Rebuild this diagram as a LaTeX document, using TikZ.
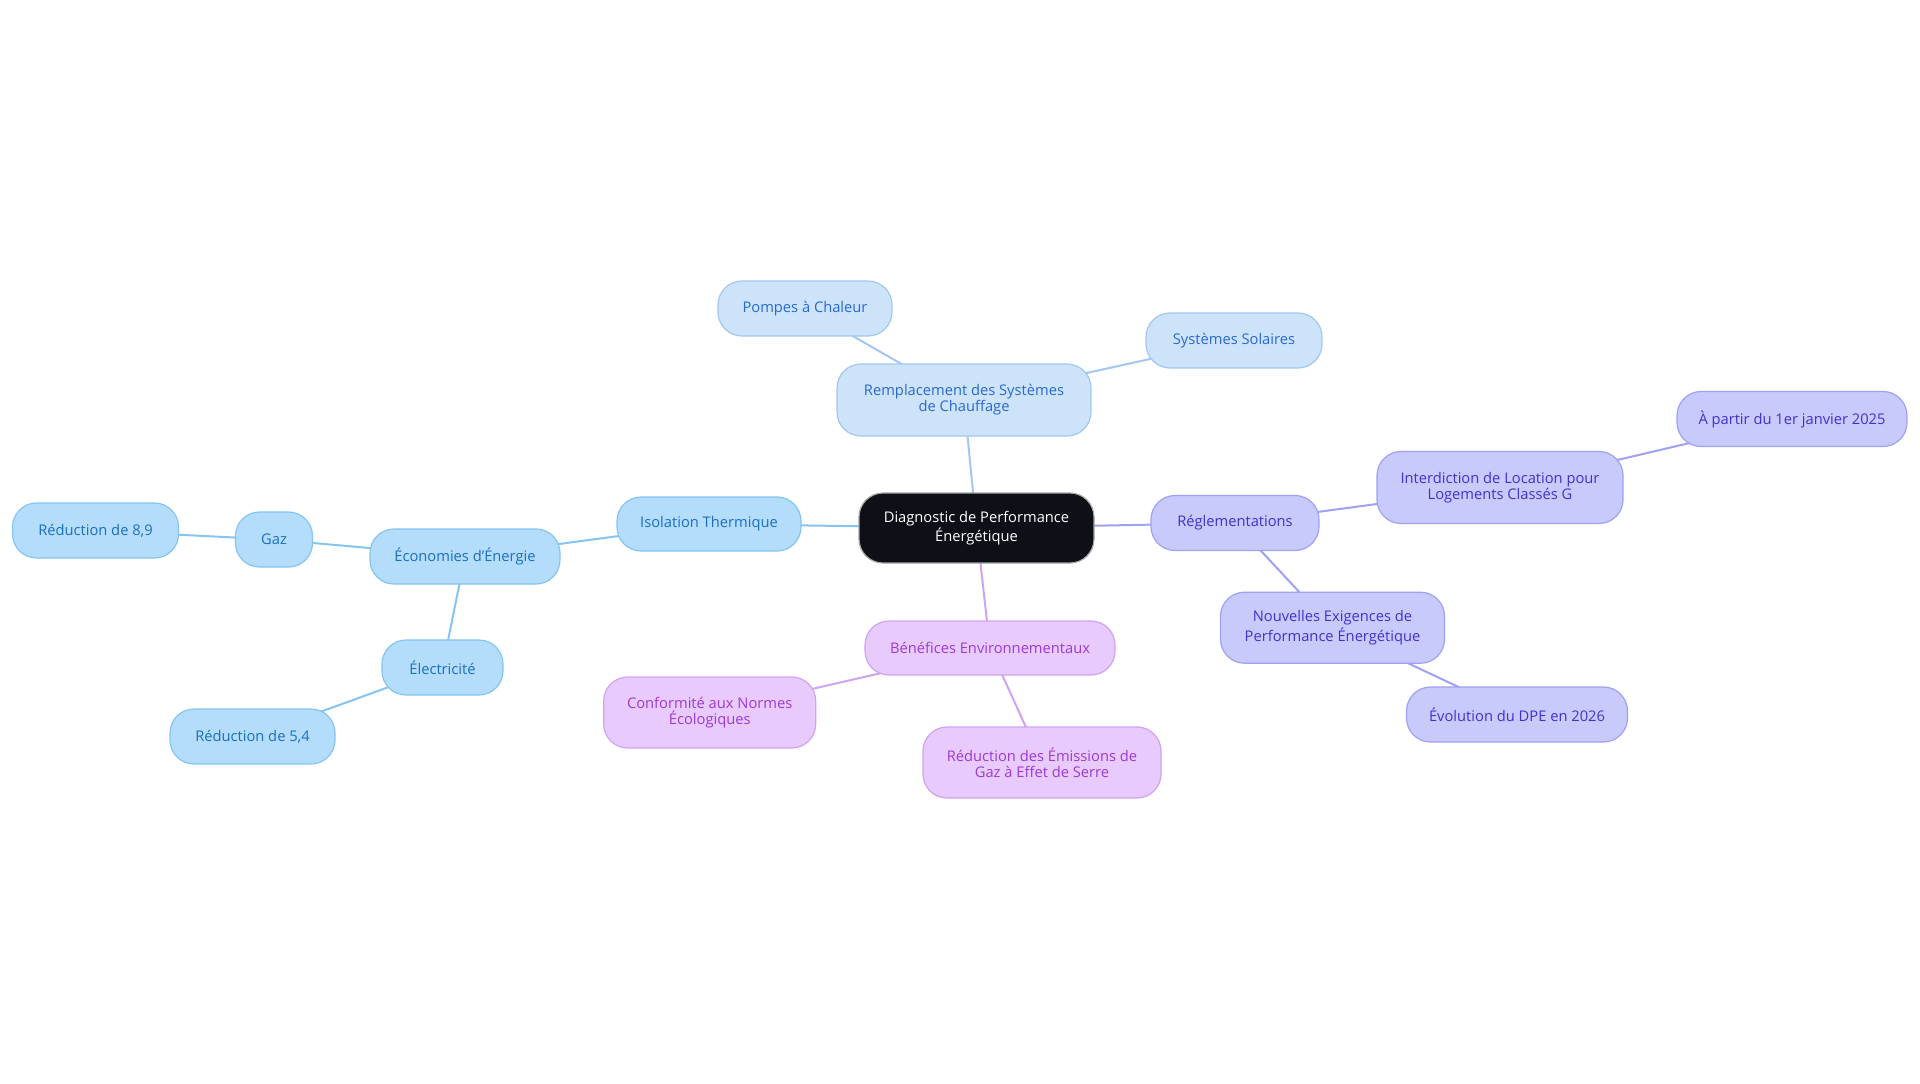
\documentclass[tikz,border=0pt]{standalone}
\usepackage{fontspec}
\setmainfont{Open Sans}
\usetikzlibrary{backgrounds}
\definecolor{cfill}{HTML}{0D1117}
\definecolor{bfill}{HTML}{B3DDFB}
\definecolor{bline}{HTML}{86C4F1}
\definecolor{btext}{HTML}{1A6FC2}
\definecolor{lfill}{HTML}{CDE3FA}
\definecolor{lline}{HTML}{A2C7F2}
\definecolor{ltext}{HTML}{2A69D0}
\definecolor{pfill}{HTML}{E8CBFC}
\definecolor{pline}{HTML}{CFA3F4}
\definecolor{ptext}{HTML}{9B3AD8}
\definecolor{ifill}{HTML}{C9CAFC}
\definecolor{iline}{HTML}{9FA1F3}
\definecolor{itext}{HTML}{3D34CF}
\tikzset{
  box/.style={rounded corners=12pt, draw, line width=0.6pt, align=center, inner sep=0pt,
    font=\fontsize{7.35}{8}\selectfont},
  cbox/.style={box, fill=cfill, draw=gray!70, text=white},
  bbox/.style={box, fill=bfill, draw=bline, text=btext},
  lbox/.style={box, fill=lfill, draw=lline, text=ltext},
  pbox/.style={box, fill=pfill, draw=pline, text=ptext},
  ibox/.style={box, fill=ifill, draw=iline, text=itext},
  edge/.style={line width=1pt},
}
\begin{document}
\begin{tikzpicture}[x=0.5pt,y=-0.5pt]
\useasboundingbox (0,0) rectangle (1920,1083);
\node[cbox, minimum width=117.5pt, minimum height=35pt] (c) at (976.5,528) {Diagnostic de Performance\\Énergétique};
\node[lbox, minimum width=127pt, minimum height=36pt] (rem) at (964,400) {Remplacement des Systèmes\\de Chauffage};
\node[lbox, minimum width=87pt, minimum height=27.5pt] (pomp) at (805,308.5) {Pompes à Chaleur};
\node[lbox, minimum width=88pt, minimum height=27.5pt] (sol) at (1234,340.5) {Systèmes Solaires};
\node[bbox, minimum width=92pt, minimum height=27pt] (iso) at (709,524) {Isolation Thermique};
\node[bbox, minimum width=95pt, minimum height=27.5pt] (eco) at (465,556.5) {Économies d'Énergie};
\node[bbox, minimum width=38.5pt, minimum height=27.5pt] (gaz) at (274,539.5) {Gaz};
\node[bbox, minimum width=83pt, minimum height=27.5pt] (r89) at (95.5,530.5) {Réduction de 8,9};
\node[bbox, minimum width=60.5pt, minimum height=27.5pt] (elec) at (442.5,667.5) {Électricité};
\node[bbox, minimum width=82.5pt, minimum height=27.5pt] (r54) at (252.5,736.5) {Réduction de 5,4};
\node[pbox, minimum width=125pt, minimum height=27pt] (ben) at (990,648) {Bénéfices Environnementaux};
\node[pbox, minimum width=106pt, minimum height=35.5pt] (conf) at (709.7,712.5) {Conformité aux Normes\\Écologiques};
\node[pbox, minimum width=119pt, minimum height=35.5pt] (red) at (1042,762.5) {Réduction des Émissions de\\Gaz à Effet de Serre};
\node[ibox, minimum width=84pt, minimum height=27.5pt] (reg) at (1235,523) {Réglementations};
\node[ibox, minimum width=123pt, minimum height=36pt] (int) at (1500,487.5) {Interdiction de Location pour\\Logements Classés G};
\node[ibox, minimum width=115pt, minimum height=27.5pt] (apa) at (1792,419) {À partir du 1er janvier 2025};
\node[ibox, minimum width=112pt, minimum height=35.5pt] (nou) at (1332.5,627.7) {Nouvelles Exigences de\\Performance Énergétique};
\node[ibox, minimum width=110.5pt, minimum height=27.5pt] (evo) at (1517,714.5) {Évolution du DPE en 2026};
\begin{pgfonlayer}{background}
\fill[white] (0,0) rectangle (1920,1083);
\draw[edge, lline] (c.center) -- (rem.center);
\draw[edge, lline] (rem.center) -- (pomp.center);
\draw[edge, lline] (rem.center) -- (sol.center);
\draw[edge, bline] (c.center) -- (iso.center);
\draw[edge, bline] (iso.center) -- (eco.center);
\draw[edge, bline] (eco.center) -- (gaz.center);
\draw[edge, bline] (gaz.center) -- (r89.center);
\draw[edge, bline] (eco.center) -- (elec.center);
\draw[edge, bline] (elec.center) -- (r54.center);
\draw[edge, pline] (c.center) -- (ben.center);
\draw[edge, pline] (ben.center) -- (conf.center);
\draw[edge, pline] (ben.center) -- (red.center);
\draw[edge, iline] (c.center) -- (reg.center);
\draw[edge, iline] (reg.center) -- (int.center);
\draw[edge, iline] (int.center) -- (apa.center);
\draw[edge, iline] (reg.center) -- (nou.center);
\draw[edge, iline] (nou.center) -- (evo.center);
\end{pgfonlayer}
\end{tikzpicture}
\end{document}
